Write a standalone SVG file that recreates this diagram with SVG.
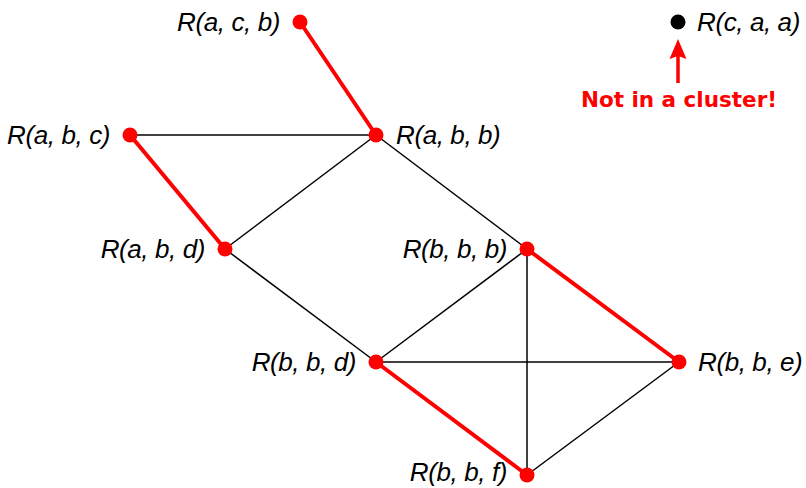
<svg xmlns="http://www.w3.org/2000/svg" width="806" height="488" viewBox="0 0 806 488">
<style>
.e{stroke:#000;stroke-width:1.5;fill:none}
.r{stroke:#ff0000;stroke-width:4;fill:none}
.d{fill:#ff0000}
.k{fill:#000}
.l{font-family:"Liberation Sans",Arial,sans-serif;font-style:italic;font-size:26px;letter-spacing:-0.4px;fill:#000}
.s{text-anchor:start}
.n{text-anchor:end}
.note{font-family:"DejaVu Sans",sans-serif;font-weight:bold;font-size:21.5px;fill:#ff0000;text-anchor:middle}
</style>
<rect width="806" height="488" fill="#fff"/>
<g id="connectors">
<line class="e" x1="130" y1="135" x2="376" y2="135"/>
<line class="e" x1="376" y1="135" x2="225" y2="249"/>
<line class="e" x1="376" y1="135" x2="527" y2="249"/>
<line class="e" x1="225" y1="249" x2="376" y2="362"/>
<line class="e" x1="376" y1="362" x2="527" y2="249"/>
<line class="e" x1="376" y1="362" x2="679" y2="362"/>
<line class="e" x1="527" y1="249" x2="527" y2="475"/>
<line class="e" x1="679" y1="362" x2="527" y2="475"/>
<line class="r" x1="300" y1="22" x2="376" y2="135"/>
<line class="r" x1="130" y1="135" x2="225" y2="249"/>
<line class="r" x1="527" y1="249" x2="679" y2="362"/>
<line class="r" x1="376" y1="362" x2="527" y2="475"/>
<line stroke="#ff0000" stroke-width="3.5" x1="678" y1="83" x2="678" y2="54"/>
<polygon fill="#ff0000" points="678,39 686.5,59 678,56 669.5,59"/>
</g>
<g id="acb"><circle class="d" cx="300" cy="22" r="7.5"/><text class="l n" x="280" y="31">R(a, c, b)</text></g>
<g id="caa"><circle class="k" cx="678" cy="22" r="7.5"/><text class="l s" x="697" y="31">R(c, a, a)</text></g>
<g id="abc"><circle class="d" cx="130" cy="135" r="7.5"/><text class="l n" x="110" y="144">R(a, b, c)</text></g>
<g id="abb"><circle class="d" cx="376" cy="135" r="7.5"/><text class="l s" x="396" y="144">R(a, b, b)</text></g>
<g id="abd"><circle class="d" cx="225" cy="249" r="7.5"/><text class="l n" x="205" y="258">R(a, b, d)</text></g>
<g id="bbb"><circle class="d" cx="527" cy="249" r="7.5"/><text class="l n" x="507" y="258">R(b, b, b)</text></g>
<g id="bbd"><circle class="d" cx="376" cy="362" r="7.5"/><text class="l n" x="356" y="371">R(b, b, d)</text></g>
<g id="bbe"><circle class="d" cx="679" cy="362" r="7.5"/><text class="l s" x="698" y="371">R(b, b, e)</text></g>
<g id="bbf"><circle class="d" cx="527" cy="475" r="7.5"/><text class="l n" x="507" y="481">R(b, b, f)</text></g>
<g id="note"><text class="note" x="679" y="107">Not in a cluster!</text></g>
</svg>
